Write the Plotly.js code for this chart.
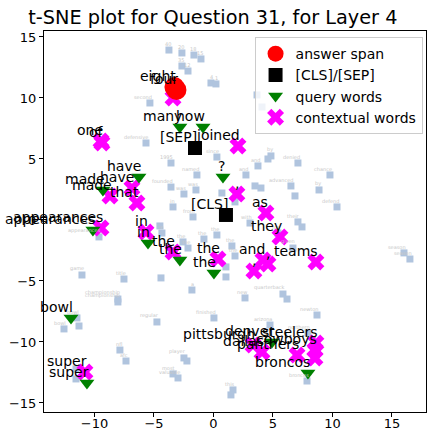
<!DOCTYPE html>
<html>
<head>
<meta charset="utf-8">
<script src="https://cdn.plot.ly/plotly-3.0.1.min.js"></script>
<style>html,body{margin:0;padding:0;background:#fff;}#chart{width:427px;height:428px;}</style>
</head>
<body>
<div id="chart"></div>
<script>
// ---- other (background) words ----
const grayX = [-3.74,-2.65,-1.64,-1.05,-2.65,-2.14,-0.21,0.21,-5.34,-5.67,-3.57,0.29,3.66,4.08,3.74,4.58,4.83,7.10,9.79,-1.39,2.73,-3.57,-2.48,-1.47,0.71,3.49,3.99,6.51,6.85,8.87,10.38,-3.40,-1.72,1.81,-4.50,3.07,7.10,7.44,5.42,6.68,1.55,1.81,-4.33,-2.56,-2.14,-0.80,0.29,1.05,1.05,-9.62,-11.05,-7.52,-4.41,-1.81,-8.03,-8.03,-11.47,-12.56,-11.30,-4.75,0.04,-7.86,-7.35,-2.48,-2.23,-3.40,-2.98,-11.55,-11.55,1.64,1.47,2.65,5.84,6.18,8.70,4.75,7.94,7.86,16.01,16.51];
const grayY = [13.93,13.69,13.52,13.20,12.62,12.21,11.23,11.15,9.59,6.31,4.67,5.16,10.25,9.26,4.43,5.00,5.25,4.67,3.69,3.69,3.69,2.70,2.13,2.46,2.21,2.79,2.62,2.79,1.97,2.46,1.07,1.07,0.25,1.48,-0.49,-0.25,-0.16,-0.57,-1.07,-2.30,-2.13,-2.95,-1.07,-1.80,-2.30,-1.56,-1.23,-3.85,-4.67,-1.39,-4.51,-4.84,-4.75,-5.74,-6.48,-6.72,-8.03,-8.93,-8.69,-8.36,-8.03,-10.66,-11.56,-11.31,-11.56,-12.62,-12.95,-13.03,-12.21,-13.93,-14.34,-6.39,-6.07,-6.48,-7.79,-8.61,-9.26,-13.20,-2.70,-3.20];
const grayLabels = ["40","20","18","15","35","12","4","1","second","defensive","1995","since","","","and","","by","denied","chance","named","and","founded","was","was","","","","advanced","","by","defend","in","from","","","with","their","","for","given","the","the","in","the","the","the","the","","","appearances","game","title","","a","championship","championship","bowl","bowl","","regular","finished","nfl","afc","player","","most","valuable","","","this","","new","quarterback","","newton","arizona","northern","broncos","season","season"];

// ---- answer span ----
const ansX = [-3.28,-3.11];
const ansY = [10.90,10.66];
const ansLabels = ["eight","four"];

// ---- [CLS]/[SEP] ----
const clsX = [-1.55,1.05];
const clsY = [5.90,0.41];
const clsLabels = ["[SEP]","[CLS]"];

// ---- query words ----
const qX = [-0.88,-2.82,-10.13,-6.26,-2.82,4.92,7.94,-9.29,-5.50,0.04,-10.63,-11.97,0.80];
const qY = [7.62,7.62,-0.82,3.52,-3.28,-10.00,-12.54,2.46,-1.89,-4.34,-13.36,-8.03,3.52];
const qLabels = ["how","many","appearances","have","the","denver","broncos","made","in","the","super","bowl","?"];

// ---- contextual words ----
const cX = [-9.45,-9.37,-3.40,2.06,1.97,4.41,5.59,4.16,4.58,3.40,8.61,-8.70,-6.85,-6.43,-9.45,-5.67,-3.40,0.38,-10.80,3.32,4.08,7.02,8.61,8.53,8.53];
const cY = [6.48,6.31,10.00,6.07,2.13,0.57,-1.39,-3.28,-3.61,-4.18,-3.44,1.97,2.62,1.39,-0.66,-0.98,-2.62,-3.20,-12.46,-10.25,-10.82,-11.07,-10.08,-10.66,-11.31];
const cLabels = ["one","of","","joined",",","as","they","and",",",",","teams","made","have","that","appearances","in","the","the","super","pittsburgh","dallas","panthers","steelers","cowboys",""];

const FONT = "DejaVu Sans, Liberation Sans, sans-serif";

const traces = [
  {x: grayX, y: grayY, mode: 'markers', type: 'scatter', showlegend: false, hoverinfo: 'skip',
   marker: {symbol: 'square', size: 7, color: '#b0c4de'}},
  {x: cX, y: cY, mode: 'markers', type: 'scatter', name: 'contextual words', legendrank: 4,
   marker: {symbol: 'x', size: 15, color: '#ff00ff', line: {width: 0}}},
  {x: qX, y: qY, mode: 'markers', type: 'scatter', name: 'query words', legendrank: 3,
   marker: {symbol: 'triangle-down', size: 13, color: '#008000', line: {width: 0}}},
  {x: clsX, y: clsY, mode: 'markers', type: 'scatter', name: '[CLS]/[SEP]', legendrank: 2,
   marker: {symbol: 'square', size: 14, color: '#000000'}},
  {x: ansX, y: ansY, mode: 'markers', type: 'scatter', name: 'answer span', legendrank: 1,
   marker: {symbol: 'circle', size: 20, color: '#ff0000'}}
];

const annotations = [];
function addLabels(xs, ys, labels, size, color) {
  for (let i = 0; i < xs.length; i++) {
    if (!labels[i]) continue;
    annotations.push({x: xs[i], y: ys[i], xref: 'x', yref: 'y', text: labels[i], showarrow: false,
      xanchor: 'right', yanchor: 'bottom', xshift: 3, yshift: 2, borderpad: 0,
      font: {family: FONT, size: size, color: color}});
  }
}
addLabels(grayX, grayY, grayLabels, 5, '#c8c8c8');
addLabels(cX, cY, cLabels, 14, '#000000');
addLabels(qX, qY, qLabels, 14, '#000000');
addLabels(clsX, clsY, clsLabels, 14, '#000000');
addLabels(ansX, ansY, ansLabels, 14, '#000000');

const layout = {
  width: 427, height: 428,
  margin: {l: 44, r: 1, t: 31, b: 16, pad: 0},
  paper_bgcolor: '#ffffff', plot_bgcolor: '#ffffff',
  font: {family: FONT, size: 13, color: '#000'},
  title: {text: 't-SNE plot for Question 31, for Layer 4', x: 0.442, xref: 'paper', xanchor: 'center',
          y: 0.960, yref: 'container', yanchor: 'middle', font: {family: FONT, size: 19.3, color: '#000'}},
  xaxis: {range: [-14.24, 17.86], tickvals: [-10,-5,0,5,10,15], showgrid: false, zeroline: false,
          showline: true, mirror: true, linecolor: '#000', linewidth: 1, ticks: 'outside', ticklen: 4,
          ticklabelstandoff: -5,
          tickcolor: '#000', tickfont: {family: FONT, size: 13, color: '#000'}},
  yaxis: {range: [-15.74, 15.49], tickvals: [-15,-10,-5,0,5,10,15], showgrid: false, zeroline: false,
          showline: true, mirror: true, linecolor: '#000', linewidth: 1, ticks: 'outside', ticklen: 4,
          tickcolor: '#000', tickfont: {family: FONT, size: 13, color: '#000'}},
  legend: {x: 0.991, xanchor: 'right', y: 0.984, yanchor: 'top', bgcolor: 'rgba(255,255,255,0.8)',
           bordercolor: '#cccccc', borderwidth: 1, font: {family: FONT, size: 14, color: '#000'}},
  annotations: annotations
};

Plotly.newPlot('chart', traces, layout, {staticPlot: true, displayModeBar: false});
</script>
</body>
</html>
